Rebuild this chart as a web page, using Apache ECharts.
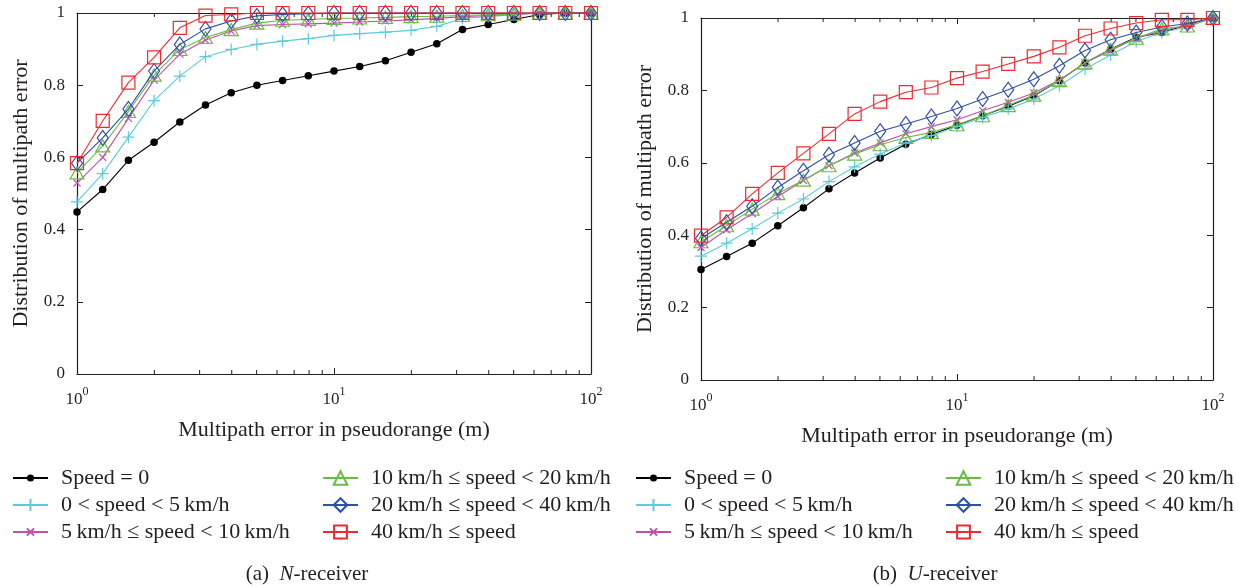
<!DOCTYPE html>
<html>
<head>
<meta charset="utf-8">
<script src="https://cdn.jsdelivr.net/npm/echarts@6/dist/echarts.min.js"></script>
<style>
  html, body { margin: 0; padding: 0; background: #fff; }
  #chart { width: 1239px; height: 588px; }
</style>
</head>
<body>
<div id="chart"></div>
<script>
// Multipath error levels (m), one sample every tenth of a decade
const errorsM = [1, 1.259, 1.585, 1.995, 2.512, 3.162, 3.981, 5.012, 6.310, 7.943,
  10, 12.59, 15.85, 19.95, 25.12, 31.62, 39.81, 50.12, 63.10, 79.43, 100];

// Minor log ticks
const minorTicks = [2, 3, 4, 5, 6, 7, 8, 9, 20, 30, 40, 50, 60, 70, 80, 90];

const seriesNames = [
  'Speed = 0',
  '0 < speed < 5\u2009km/h',
  '5\u2009km/h \u2264 speed < 10\u2009km/h',
  '10\u2009km/h \u2264 speed < 20\u2009km/h',
  '20\u2009km/h \u2264 speed < 40\u2009km/h',
  '40\u2009km/h \u2264 speed'
];

// (a) N-receiver cumulative distributions
const nSpeed0     = [0.449, 0.511, 0.592, 0.642, 0.698, 0.745, 0.779, 0.800, 0.813, 0.826, 0.839, 0.852, 0.868, 0.891, 0.915, 0.954, 0.968, 0.982, 0.996, 1, 1];
const nSpeed0to5  = [0.477, 0.555, 0.656, 0.757, 0.825, 0.879, 0.899, 0.913, 0.922, 0.929, 0.938, 0.943, 0.947, 0.952, 0.963, 0.985, 0.990, 0.995, 1, 1, 1];
const nSpeed5to10 = [0.529, 0.600, 0.708, 0.814, 0.886, 0.925, 0.950, 0.965, 0.968, 0.970, 0.972, 0.975, 0.978, 0.981, 0.985, 0.990, 0.993, 0.996, 1, 1, 1];
const nSpeed10to20 = [0.557, 0.632, 0.727, 0.828, 0.899, 0.932, 0.954, 0.972, 0.980, 0.982, 0.985, 0.986, 0.988, 0.990, 0.991, 0.993, 0.995, 0.997, 1, 1, 1];
const nSpeed20to40 = [0.584, 0.654, 0.734, 0.839, 0.913, 0.956, 0.978, 0.992, 0.996, 0.998, 1, 1, 1, 1, 1, 1, 1, 1, 1, 1, 1];
const nSpeed40up   = [0.584, 0.701, 0.807, 0.877, 0.959, 0.993, 0.996, 1, 1, 1, 1, 1, 1, 1, 1, 1, 1, 1, 1, 1, 1];

// (b) U-receiver cumulative distributions
const uSpeed0     = [0.305, 0.341, 0.378, 0.426, 0.476, 0.528, 0.572, 0.613, 0.651, 0.678, 0.704, 0.730, 0.756, 0.785, 0.827, 0.876, 0.914, 0.947, 0.960, 0.981, 1];
const uSpeed0to5  = [0.342, 0.378, 0.418, 0.461, 0.500, 0.548, 0.589, 0.624, 0.655, 0.675, 0.700, 0.725, 0.749, 0.776, 0.813, 0.859, 0.898, 0.935, 0.960, 0.975, 1];
const uSpeed5to10 = [0.366, 0.415, 0.460, 0.507, 0.551, 0.592, 0.627, 0.655, 0.680, 0.700, 0.719, 0.744, 0.767, 0.793, 0.829, 0.876, 0.910, 0.944, 0.965, 0.980, 1];
const uSpeed10to20 = [0.382, 0.426, 0.472, 0.515, 0.552, 0.592, 0.624, 0.650, 0.670, 0.684, 0.705, 0.730, 0.758, 0.787, 0.827, 0.876, 0.914, 0.944, 0.970, 0.978, 1];
const uSpeed20to40 = [0.391, 0.436, 0.480, 0.532, 0.578, 0.622, 0.655, 0.687, 0.707, 0.728, 0.750, 0.776, 0.802, 0.831, 0.868, 0.910, 0.940, 0.960, 0.975, 0.985, 1];
const uSpeed40up   = [0.399, 0.449, 0.514, 0.572, 0.626, 0.680, 0.735, 0.769, 0.795, 0.808, 0.834, 0.852, 0.873, 0.894, 0.919, 0.951, 0.971, 0.986, 0.995, 0.995, 1];

const FONT = '"Liberation Serif", "DejaVu Serif", serif';
const TEXT = '#231f20';

// Marker styles per speed class (legendBox sets the legend symbol size)
const styles = [
  { color: '#000000', symbol: 'circle', size: 7.5, filled: true, legendBox: 9 },
  { color: '#5ecbdb', symbol: 'path://M5,0L5,10M0,5L10,5', size: 12, legendBox: 15 },
  { color: '#c04fae', symbol: 'path://M0,0L10,10M10,0L0,10', size: 7, legendBox: 9 },
  { color: '#6cbb47', symbol: 'triangle', size: [14, 12], legendBox: 17 },
  { color: '#2f4fa6', symbol: 'diamond', size: [11, 15], legendBox: 17 },
  { color: '#ee2a30', symbol: 'rect', size: 13, legendBox: 16 }
];

const nData = [nSpeed0, nSpeed0to5, nSpeed5to10, nSpeed10to20, nSpeed20to40, nSpeed40up];
const uData = [uSpeed0, uSpeed0to5, uSpeed5to10, uSpeed10to20, uSpeed20to40, uSpeed40up];

function lineSeries(values, i, gridIdx) {
  const s = styles[i];
  return {
    name: seriesNames[i],
    type: 'line',
    xAxisIndex: gridIdx * 2,
    yAxisIndex: gridIdx * 2,
    data: errorsM.map((x, k) => [x, values[k]]),
    symbol: s.symbol,
    symbolSize: s.size,
    showAllSymbol: true,
    clip: false,
    lineStyle: { color: s.color, width: 1.1 },
    itemStyle: {
      color: s.filled ? s.color : 'none',
      borderColor: s.color,
      borderWidth: s.filled ? 0 : 1.2
    },
    emphasis: { disabled: true },
    z: 3 + i
  };
}

function minorTickSeries(gridIdx) {
  return {
    type: 'custom',
    xAxisIndex: gridIdx * 2,
    yAxisIndex: gridIdx * 2,
    silent: true,
    clip: false,
    data: minorTicks.map(v => [v]),
    renderItem: function (params, api) {
      const b = api.coord([api.value(0), 0]);
      const t = api.coord([api.value(0), 1]);
      const st = { stroke: '#231f20', lineWidth: 1 };
      return {
        type: 'group',
        children: [
          { type: 'line', shape: { x1: b[0], y1: b[1], x2: b[0], y2: b[1] - 4 }, style: st },
          { type: 'line', shape: { x1: t[0], y1: t[1], x2: t[0], y2: t[1] + 4 }, style: st }
        ]
      };
    },
    z: 2
  };
}

const axisLine = { show: true, onZero: false, lineStyle: { color: '#231f20', width: 1.2 } };
const tick = { show: true, inside: true, length: 6, lineStyle: { color: '#231f20', width: 1 } };

function xAxes(gridIdx) {
  return [
    {
      type: 'log', logBase: 10, min: 1, max: 100, gridIndex: gridIdx,
      axisLine: axisLine, axisTick: tick, splitLine: { show: false },
      name: 'Multipath error in pseudorange (m)',
      nameLocation: 'middle', nameGap: 45,
      nameTextStyle: { fontFamily: FONT, fontSize: 22, color: TEXT },
      axisLabel: {
        margin: 12,
        formatter: v => '{b|10}{s|' + Math.round(Math.log10(v)) + '}',
        rich: {
          b: { fontFamily: FONT, fontSize: 17, color: TEXT, lineHeight: 22, verticalAlign: 'bottom' },
          s: { fontFamily: FONT, fontSize: 12, color: TEXT, lineHeight: 12, verticalAlign: 'top' }
        }
      }
    },
    {
      type: 'log', logBase: 10, min: 1, max: 100, gridIndex: gridIdx, position: 'top',
      axisLine: axisLine, axisTick: tick, axisLabel: { show: false }, splitLine: { show: false }
    }
  ];
}

function yAxes(gridIdx, gap) {
  return [
    {
      type: 'value', min: 0, max: 1, interval: 0.2, gridIndex: gridIdx,
      axisLine: axisLine, axisTick: tick, splitLine: { show: false },
      name: 'Distribution of multipath error',
      nameLocation: 'middle', nameGap: gap,
      nameTextStyle: { fontFamily: FONT, fontSize: 22, color: TEXT },
      axisLabel: { fontFamily: FONT, fontSize: 17, color: TEXT, margin: 12 }
    },
    {
      type: 'value', min: 0, max: 1, interval: 0.2, gridIndex: gridIdx, position: 'right',
      axisLine: axisLine, axisTick: tick, axisLabel: { show: false }, splitLine: { show: false }
    }
  ];
}

// One legend entry per component so each symbol keeps its own size
function legendEntry(i, left, rowCenter) {
  return {
    data: [seriesNames[i]], left: left, top: rowCenter - 11, orient: 'vertical',
    padding: 0,
    itemWidth: 35, itemHeight: styles[i].legendBox,
    selectedMode: false,
    textStyle: { fontFamily: FONT, fontSize: 22, lineHeight: 22, color: TEXT, padding: [0, 0, 0, 8] }
  };
}

const rows = [478, 505, 532];
const legendCols = [[12, 322], [635, 945]];
const legends = [];
legendCols.forEach(cols => {
  for (let i = 0; i < 6; i++) {
    legends.push(legendEntry(i, cols[Math.floor(i / 3)], rows[i % 3]));
  }
});

const chart = echarts.init(document.getElementById('chart'), null, { renderer: 'canvas' });

const series = [];
nData.forEach((v, i) => series.push(lineSeries(v, i, 0)));
uData.forEach((v, i) => series.push(lineSeries(v, i, 1)));
series.push(minorTickSeries(0), minorTickSeries(1));

function caption(letter, italic, cx) {
  return {
    type: 'text', x: cx, y: 574,
    style: {
      text: '(' + letter + ')  {i|' + italic + '}-receiver',
      fontFamily: FONT, fontSize: 21, fill: TEXT,
      align: 'center', verticalAlign: 'middle',
      rich: { i: { fontFamily: FONT, fontSize: 21, fontStyle: 'italic', fill: TEXT } }
    }
  };
}

chart.setOption({
  animation: false,
  backgroundColor: '#ffffff',
  grid: [
    { left: 77, top: 13, width: 514, height: 361 },
    { left: 701, top: 18, width: 512, height: 362 }
  ],
  xAxis: [...xAxes(0), ...xAxes(1)],
  yAxis: [...yAxes(0, 45), ...yAxes(1, 45)],
  legend: legends,
  graphic: [caption('a', 'N', 307), caption('b', 'U', 935)],
  series: series
});
</script>
</body>
</html>
